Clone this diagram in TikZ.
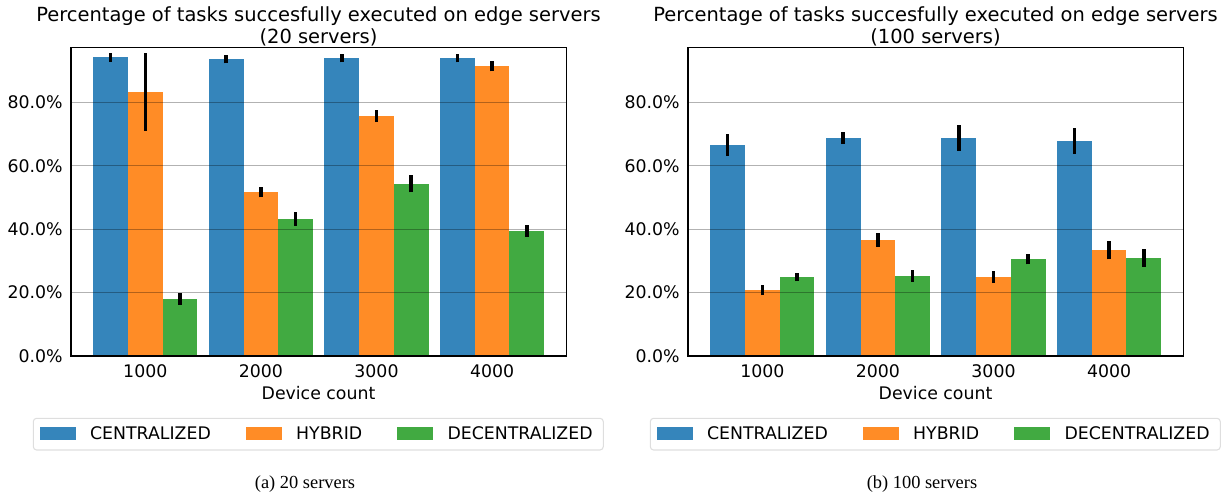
\documentclass[tikz,border=0pt]{standalone}
\usepackage{fontspec}
\setmainfont{DejaVu Sans}
\newfontfamily\capfont{Liberation Serif}
\usetikzlibrary{positioning}

\definecolor{cenblue}{HTML}{3585BB}
\definecolor{hyborange}{HTML}{FF8C26}
\definecolor{decgreen}{HTML}{41AA41}

\tikzset{
  plotfont/.style={font=\fontsize{13}{16.5}\selectfont},
  titlefont/.style={font=\fontsize{14.6}{16.5}\selectfont},
  ticklabel/.style={inner sep=0pt},
  errbar/.style={black, line width=2.7pt},
  gridline/.style={black, opacity=0.3, line width=1pt},
  axframe/.style={black, line width=0.8pt},
  patch/.style={fill=#1, minimum width=26.8pt, minimum height=9.3pt, inner sep=0pt},
  legendbox/.style={draw=black!13, line width=0.8pt, rounded corners=2.5pt},
  subcap/.style={inner sep=0pt, font=\capfont\fontsize{13.8}{16}\selectfont},
}

% x position / colour / value / error
\def\leftdata{-0.3/cenblue/94.3/1.4, 0/hyborange/83.3/12.3, 0.3/decgreen/18.0/1.8,
  0.7/cenblue/93.7/1.4, 1/hyborange/51.7/1.7, 1.3/decgreen/43.2/2.1,
  1.7/cenblue/94.0/1.4, 2/hyborange/75.7/1.9, 2.3/decgreen/54.3/2.7,
  2.7/cenblue/94.0/1.4, 3/hyborange/91.5/1.7, 3.3/decgreen/39.4/1.8}
\def\rightdata{-0.3/cenblue/66.6/3.5, 0/hyborange/20.8/1.6, 0.3/decgreen/24.9/1.3,
  0.7/cenblue/68.8/2.0, 1/hyborange/36.6/2.1, 1.3/decgreen/25.2/1.8,
  1.7/cenblue/68.8/4.0, 2/hyborange/24.9/1.9, 2.3/decgreen/30.6/1.7,
  2.7/cenblue/67.8/4.0, 3/hyborange/33.4/2.9, 3.3/decgreen/30.9/2.8}

\begin{document}
\begin{tikzpicture}[x=0.75pt, y=-0.75pt, plotfont]
  \useasboundingbox (0,0) rectangle (1228,495);

  % (a) 20 servers
  \begin{scope}
    \begin{scope}[shift={(145.3,356)}, x=86.7pt, y=2.3775pt]
      \foreach \x/\c/\v/\e in \leftdata
        \fill[\c] ({\x-0.15},0) rectangle ({\x+0.15},\v);
      \foreach \t in {20,40,60,80}
        \draw[gridline] (-0.643,\t) -- (3.643,\t);
      \foreach \x/\c/\v/\e in \leftdata
        \draw[errbar] (\x,{\v-\e}) -- (\x,{\v+\e});
      \draw[axframe] (-0.643,0) rectangle (3.643,97.2);
      \foreach \t in {0,20,40,60,80}
        \node[ticklabel, anchor=base east, xshift=-6pt, yshift=-4.75pt] (ay\t) at (-0.643,\t) {\t.0\%};
      \foreach \g/\n in {0/1000,1/2000,2/3000,3/4000}
        \node[ticklabel, anchor=base, yshift=-16pt] (ax\n) at (\g,0) {\n};
    \end{scope}
    \node[ticklabel, titlefont, anchor=north, align=center] (atitle) at (318.5,6)
      {Percentage of tasks succesfully executed on edge servers\\(20 servers)};
    \node[ticklabel, anchor=base] (axlabel) at (318.5,399.5) {Device count};
    \draw[legendbox] (33.3,418.3) rectangle (603.3,450);
    \node[patch=cenblue] (apc) at (57.85,433.5) {};
    \node[ticklabel, right=10.4pt of apc] (atc) {CENTRALIZED};
    \node[patch=hyborange, right=26pt of atc] (aph) {};
    \node[ticklabel, right=10.4pt of aph] (ath) {HYBRID};
    \node[patch=decgreen, right=26pt of ath] (apd) {};
    \node[ticklabel, right=10.4pt of apd] (atd) {DECENTRALIZED};
    \node[subcap, anchor=base] (acap) at (305,488.3) {(a) 20 servers};
  \end{scope}

  % (b) 100 servers
  \begin{scope}[xshift=462.75pt]
    \begin{scope}[shift={(145.3,356)}, x=86.7pt, y=2.3775pt]
      \foreach \x/\c/\v/\e in \rightdata
        \fill[\c] ({\x-0.15},0) rectangle ({\x+0.15},\v);
      \foreach \t in {20,40,60,80}
        \draw[gridline] (-0.643,\t) -- (3.643,\t);
      \foreach \x/\c/\v/\e in \rightdata
        \draw[errbar] (\x,{\v-\e}) -- (\x,{\v+\e});
      \draw[axframe] (-0.643,0) rectangle (3.643,97.2);
      \foreach \t in {0,20,40,60,80}
        \node[ticklabel, anchor=base east, xshift=-6pt, yshift=-4.75pt] (by\t) at (-0.643,\t) {\t.0\%};
      \foreach \g/\n in {0/1000,1/2000,2/3000,3/4000}
        \node[ticklabel, anchor=base, yshift=-16pt] (bx\n) at (\g,0) {\n};
    \end{scope}
    \node[ticklabel, titlefont, anchor=north, align=center] (btitle) at (318.5,6)
      {Percentage of tasks succesfully executed on edge servers\\(100 servers)};
    \node[ticklabel, anchor=base] (bxlabel) at (318.5,399.5) {Device count};
    \draw[legendbox] (33.3,418.3) rectangle (603.3,450);
    \node[patch=cenblue] (bpc) at (57.85,433.5) {};
    \node[ticklabel, right=10.4pt of bpc] (btc) {CENTRALIZED};
    \node[patch=hyborange, right=26pt of btc] (bph) {};
    \node[ticklabel, right=10.4pt of bph] (bth) {HYBRID};
    \node[patch=decgreen, right=26pt of bth] (bpd) {};
    \node[ticklabel, right=10.4pt of bpd] (btd) {DECENTRALIZED};
    \node[subcap, anchor=base] (bcap) at (305,488.3) {(b) 100 servers};
  \end{scope}
\end{tikzpicture}
\end{document}
